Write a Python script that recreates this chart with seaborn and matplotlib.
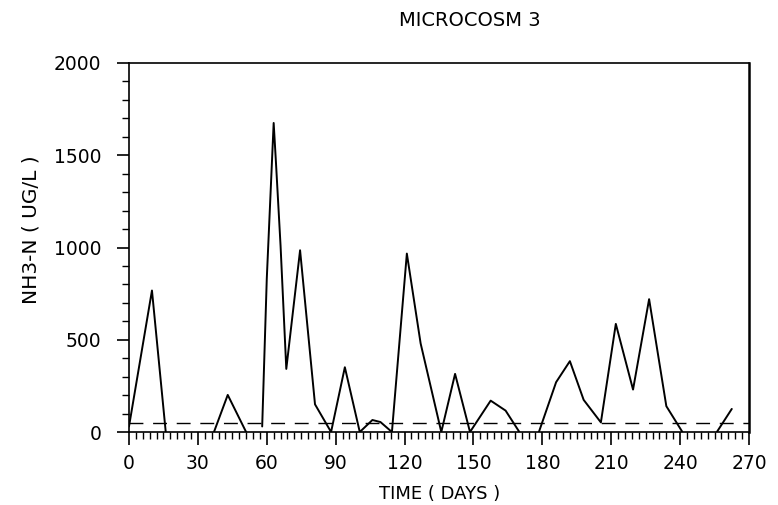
import numpy as np
import pandas as pd
import matplotlib
matplotlib.use("Agg")
import matplotlib.pyplot as plt
import seaborn as sns
from matplotlib.ticker import MultipleLocator

# ---- data ----
seg1_days = [0, 10, 16]
seg1_vals = [30, 767, 0]
seg2_days = [37, 43, 51]
seg2_vals = [0, 201, 0]
seg3_days = [58, 60, 63, 64, 66, 68.5, 74.5, 81, 88, 94, 100.5, 106, 109.5,
             114.5, 121, 127, 136, 142, 148.5, 157.5, 164, 170]
seg3_vals = [30, 831, 1675, 1460, 1010, 342, 985, 150, 0, 351, 0, 65, 54,
             0, 967, 480, 0, 315, 0, 170, 116, 0]
seg4_days = [178.5, 186, 192, 198, 205.5, 212, 219.5, 226.5, 234, 241]
seg4_vals = [0, 270, 384, 174, 52, 586, 230, 720, 140, 0]
seg5_days = [256, 262.5]
seg5_vals = [0, 125]
detection_limit = 50

x_ticks = [0, 30, 60, 90, 120, 150, 180, 210, 240, 270]
y_ticks = [0, 500, 1000, 1500, 2000]

title = "MICROCOSM 3"
x_label = "TIME ( DAYS )"
y_label = "NH3-N ( UG/L )"

segments = [(seg1_days, seg1_vals), (seg2_days, seg2_vals), (seg3_days, seg3_vals),
            (seg4_days, seg4_vals), (seg5_days, seg5_vals)]
rows = []
for i, (d, v) in enumerate(segments):
    for dd, vv in zip(d, v):
        rows.append({"day": dd, "nh3": vv, "seg": i})
df = pd.DataFrame(rows)

# ---- plot ----
sns.set_theme(style="ticks")
plt.rcParams["font.family"] = ["DejaVu Sans"]
plt.rcParams["text.color"] = "black"

fig = plt.figure(figsize=(7.78, 5.05), dpi=100)
ax = fig.add_axes([129 / 778, 1 - 432 / 505, (749 - 129) / 778, (432 - 63) / 505])

sns.lineplot(data=df, x="day", y="nh3", units="seg", estimator=None,
             color="black", linewidth=1.4, ax=ax, legend=False, sort=False)
ax.axhline(detection_limit, color="black", linewidth=1.0, dashes=(10, 7))

ax.set_xlim(x_ticks[0], x_ticks[-1])
ax.set_ylim(y_ticks[0], y_ticks[-1])
ax.set_xticks(x_ticks)
ax.set_yticks(y_ticks)
ax.xaxis.set_minor_locator(MultipleLocator(3))
ax.yaxis.set_minor_locator(MultipleLocator(100))
ax.tick_params(axis="both", which="major", direction="out", length=9, width=1.2,
               color="black", labelsize=13.5, labelcolor="black")
ax.tick_params(axis="both", which="minor", direction="out", length=5, width=1.0,
               color="black")
ax.tick_params(axis="x", which="major", pad=7)
ax.tick_params(axis="y", which="major", pad=11)
for s in ax.spines.values():
    s.set_visible(True)
    s.set_color("black")
    s.set_linewidth(1.2)
ax.spines["right"].set_linewidth(1.8)

ax.set_xlabel("")
ax.set_ylabel("")
fig.text(440 / 778, 1 - 494 / 505, x_label, ha="center", va="center",
         fontsize=13, color="black")
fig.text(31 / 778, 1 - 230 / 505, y_label, ha="center", va="center",
         rotation=90, fontsize=14.5, color="black")
fig.text(470 / 778, 1 - 20 / 505, title, ha="center", va="center",
         fontsize=14, color="black")

fig.savefig("out.png", dpi=100, facecolor="white")
